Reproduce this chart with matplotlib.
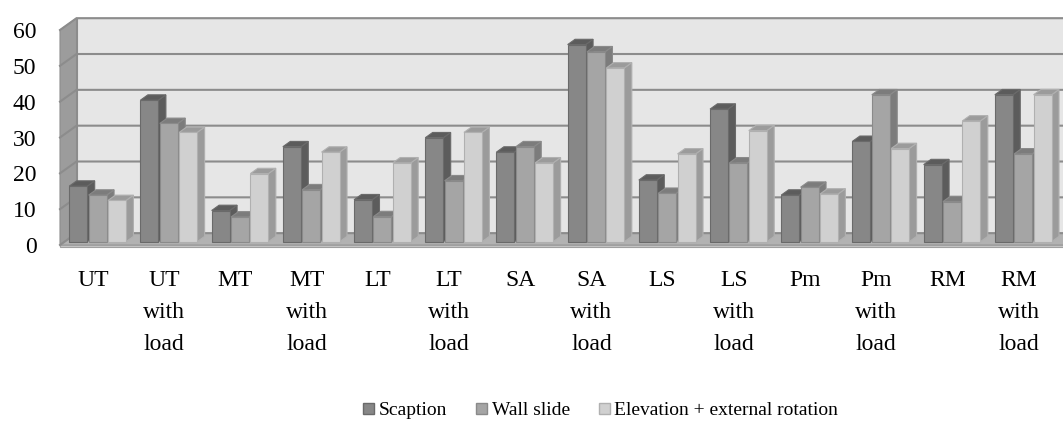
import matplotlib.pyplot as plt
from matplotlib.patches import Polygon, Rectangle

plt.rcParams['font.family'] = ['Liberation Serif', 'DejaVu Serif']

# Muscle / condition groups
categories = ["UT", "UT\nwith\nload", "MT", "MT\nwith\nload", "LT", "LT\nwith\nload",
              "SA", "SA\nwith\nload", "LS", "LS\nwith\nload", "Pm", "Pm\nwith\nload",
              "RM", "RM\nwith\nload"]
series = ["Scaption", "Wall slide", "Elevation + external rotation"]

scaption = [15.5, 39.5, 8.7, 26.5, 11.7, 29, 25, 55, 17.2, 37, 13, 28, 21.5, 41]
wall_slide = [13, 33, 6.9, 14.5, 7, 17, 26.5, 53, 13.5, 22, 15.2, 41, 11.2, 24.5]
elevation_er = [11.5, 30.5, 19, 25, 22, 30.5, 22, 48.5, 24.5, 31, 13.3, 26, 33.7, 41]

yticks = [0, 10, 20, 30, 40, 50, 60]

face_colors = ['#878787', '#a5a5a5', '#d0d0d0']
shade_colors = ['#5c5c5c', '#7c7c7c', '#9b9b9b']
edge_colors = ['#6a6a6a', '#8a8a8a', '#b0b0b0']

# fake 3d: depth d in [0, 1] shifts points right/up
DX, DY = 0.232, 3.3
d0, d1 = 0.28, 0.73  # front / back of the columns
bw, step = 0.253, 0.272

fig = plt.figure(figsize=(10.63, 4.28), dpi=100)
ax = fig.add_axes([60 / 1063, 183 / 428, 1003 / 1063, 215 / 428])
xL, xR = -0.4635, 13.8
ax.set_xlim(xL, 13.624)
ax.set_ylim(0, 60)


def proj(x, v, d):
    return (x + d * DX, v + d * DY)


def poly(pts, fc, ec, z, lw=0.8):
    ax.add_patch(Polygon(pts, closed=True, facecolor=fc, edgecolor=ec, lw=lw,
                         zorder=z, clip_on=False))


# walls and floor
poly([proj(xL, 0, 1), proj(xR, 0, 1), proj(xR, 60, 1), proj(xL, 60, 1)], '#e6e6e6', '#8c8c8c', 0.5)
poly([proj(xL, 0, 0), proj(xL, 0, 1), proj(xL, 60, 1), proj(xL, 60, 0)], '#9c9c9c', '#8c8c8c', 0.6)
poly([proj(xL, 0, 0), proj(xR, 0, 0), proj(xR, 0, 1), proj(xL, 0, 1)], '#b2b2b2', '#9a9a9a', 0.7)
poly([proj(xL, -0.6, 0), proj(xR, -0.6, 0), proj(xR, 0, 0), proj(xL, 0, 0)], '#c8c8c8', '#a0a0a0', 0.7)

for v in yticks:
    pts = [proj(xL, v, 0), proj(xL, v, 1), proj(xR, v, 1)]
    ax.plot([p[0] for p in pts], [p[1] for p in pts], color='#8c8c8c', lw=1.5,
            zorder=0.8, clip_on=False, solid_joinstyle='miter')

# columns, left to right so the right neighbour hides the side face
values = [scaption, wall_slide, elevation_er]
z = 2.0
for i in range(len(categories)):
    for j in range(3):
        v = values[j][i]
        xc = i + (j - 1) * step
        xl, xr = xc - bw / 2, xc + bw / 2
        poly([proj(xr, 0, d0), proj(xr, 0, d1), proj(xr, v, d1), proj(xr, v, d0)],
             shade_colors[j], edge_colors[j], z)
        poly([proj(xl, v, d0), proj(xr, v, d0), proj(xr, v, d1), proj(xl, v, d1)],
             shade_colors[j], edge_colors[j], z)
        ax.bar(xc + d0 * DX, v, width=bw, bottom=d0 * DY, color=face_colors[j],
               edgecolor=edge_colors[j], lw=0.8, zorder=z + 0.001, clip_on=False)
        z += 0.01

for s in ax.spines.values():
    s.set_visible(False)
ax.set_facecolor('none')
ax.set_yticks(yticks)
ax.set_yticklabels([str(t) for t in yticks], fontsize=17)
ax.set_xticks(range(len(categories)))
ax.set_xticklabels(categories, fontsize=17, linespacing=1.68, va='top')
ax.tick_params(axis='y', length=0, pad=17)
ax.tick_params(axis='x', length=0, pad=18)

handles = [Rectangle((0, 0), 1, 1, facecolor=face_colors[k], edgecolor=edge_colors[k])
           for k in range(3)]
fig.legend(handles, series, loc='center', bbox_to_anchor=(0.565, 0.04), ncol=3,
           frameon=False, fontsize=14, handlelength=0.55, handleheight=0.55,
           handletextpad=0.25, columnspacing=1.5)

fig.savefig('out.png', dpi=100)
